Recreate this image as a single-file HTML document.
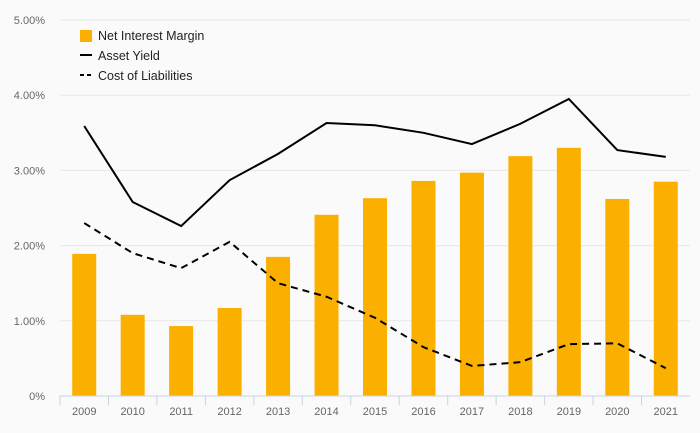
<!DOCTYPE html>
<html><head><meta charset="utf-8"><style>
body{margin:0;background:#fafafa;font-family:"Liberation Sans",sans-serif}
svg{display:block}
</style></head><body>
<svg id="c" width="700" height="433"></svg>
<script>
const years=["2009","2010","2011","2012","2013","2014","2015","2016","2017","2018","2019","2020","2021"];
const nim=[1.89,1.08,0.93,1.17,1.85,2.41,2.63,2.86,2.97,3.19,3.30,2.62,2.85];
const assetYield=[3.59,2.58,2.26,2.87,3.22,3.63,3.60,3.50,3.35,3.62,3.95,3.27,3.18];
const costLiab=[2.30,1.90,1.70,2.05,1.50,1.32,1.04,0.65,0.40,0.45,0.69,0.70,0.37];
const yTicks=["0%","1.00%","2.00%","3.00%","4.00%","5.00%"];
const NS="http://www.w3.org/2000/svg";
const svg=document.getElementById('c');
const x0=60,x1=690,y0=396,ppu=75.2;
const step=(x1-x0)/years.length;
const X=i=>x0+step*(i+0.5);
const Y=v=>y0-v*ppu;
function mk(t,a,p){const e=document.createElementNS(NS,t);for(const k in a)e.setAttribute(k,a[k]);(p||svg).appendChild(e);return e;}
yTicks.forEach((t,i)=>{
 if(i>0){const g=mk('line',{x1:x0,x2:x1,y1:Y(i),y2:Y(i),stroke:'#e8e8e8','stroke-width':1});
 
 }
 const tx=mk('text',{x:45,y:Y(i)+4,'text-anchor':'end','font-size':11,fill:'#666'});tx.textContent=t;
 
 
});
years.forEach((yr,i)=>{
 const b=mk('rect',{x:X(i)-12,y:Y(nim[i]),width:24,height:nim[i]*ppu,fill:'#fbb000'});
 
 
 const t=mk('line',{x1:x0+step*i,x2:x0+step*i,y1:y0,y2:y0+9,stroke:'#c8d3e6'});
 
 
 const l=mk('text',{x:X(i),y:415,'text-anchor':'middle','font-size':11,fill:'#666'});l.textContent=yr;
 
 
});
const ax=mk('line',{x1:x0,x2:x1,y1:y0,y2:y0,stroke:'#c8d3e6'});


const pts=a=>a.map((v,i)=>X(i)+','+Y(v)).join(' ');
const l1=mk('polyline',{points:pts(assetYield),fill:'none',stroke:'#000','stroke-width':2});


const l2=mk('polyline',{points:pts(costLiab),fill:'none',stroke:'#000','stroke-width':2,'stroke-dasharray':'7,5'});


const lg=mk('g',{});


const r=mk('rect',{x:80,y:30,width:12,height:12,fill:'#fbb000'},lg);


const s1=mk('line',{x1:80,x2:92,y1:55,y2:55,stroke:'#000','stroke-width':2},lg);


const s2=mk('line',{x1:80,x2:92,y1:75,y2:75,stroke:'#000','stroke-width':2,'stroke-dasharray':'4,3'},lg);


[["Net Interest Margin",40],["Asset Yield",60],["Cost of Liabilities",80]].forEach(([t,y])=>{
 const e=mk('text',{x:98,y:y,'font-size':12.5,fill:'#222'},lg);e.textContent=t;
 
 
});
</script>
</body></html>
